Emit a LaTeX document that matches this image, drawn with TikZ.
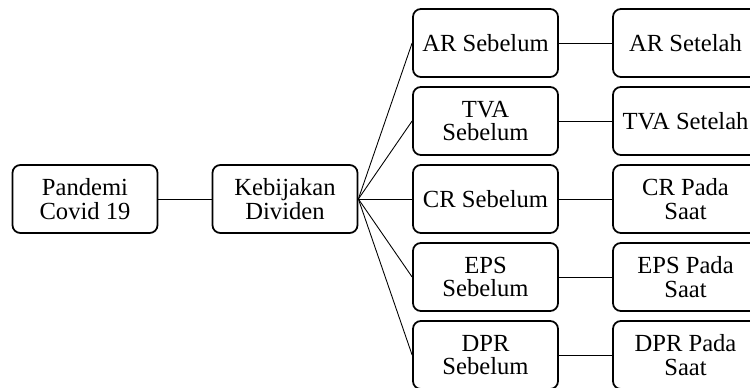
\documentclass[tikz,border=0pt]{standalone}
\usepackage{fontspec}
\setmainfont{Liberation Serif}

\begin{document}
\begin{tikzpicture}[box/.style={draw, line width=1pt, rounded corners=4.5pt, align=center,
		minimum width=2.9cm, minimum height=1.36cm, inner sep=1pt,
		font=\fontsize{14}{13.3}\selectfont}, line width=0.5pt]
	\useasboundingbox (0,0) rectangle (15,7.76);
	\node[box] (P) at (1.7,3.78) {Pandemi\\Covid 19};
	\node[box] (K) at (5.7,3.78) {Kebijakan\\Dividen};
	\node[box] (AR1) at (9.71,6.9) {AR Sebelum};
	\node[box] (TVA1) at (9.71,5.34) {TVA\\Sebelum};
	\node[box] (CR1) at (9.71,3.78) {CR Sebelum};
	\node[box] (EPS1) at (9.71,2.22) {EPS\\Sebelum};
	\node[box] (DPR1) at (9.71,0.66) {DPR\\Sebelum};
	\node[box] (AR2) at (13.71,6.9) {AR Setelah};
	\node[box] (TVA2) at (13.71,5.34) {TVA Setelah};
	\node[box] (CR2) at (13.71,3.78) {CR Pada\\Saat};
	\node[box] (EPS2) at (13.71,2.22) {EPS Pada\\Saat};
	\node[box] (DPR2) at (13.71,0.66) {DPR Pada\\Saat};
	\draw (P) -- (K);
	\foreach \v in {AR,TVA,CR,EPS,DPR} {
		\draw (K.east) -- (\v1.west);
		\draw (\v1) -- (\v2);
	}
\end{tikzpicture}
\end{document}
